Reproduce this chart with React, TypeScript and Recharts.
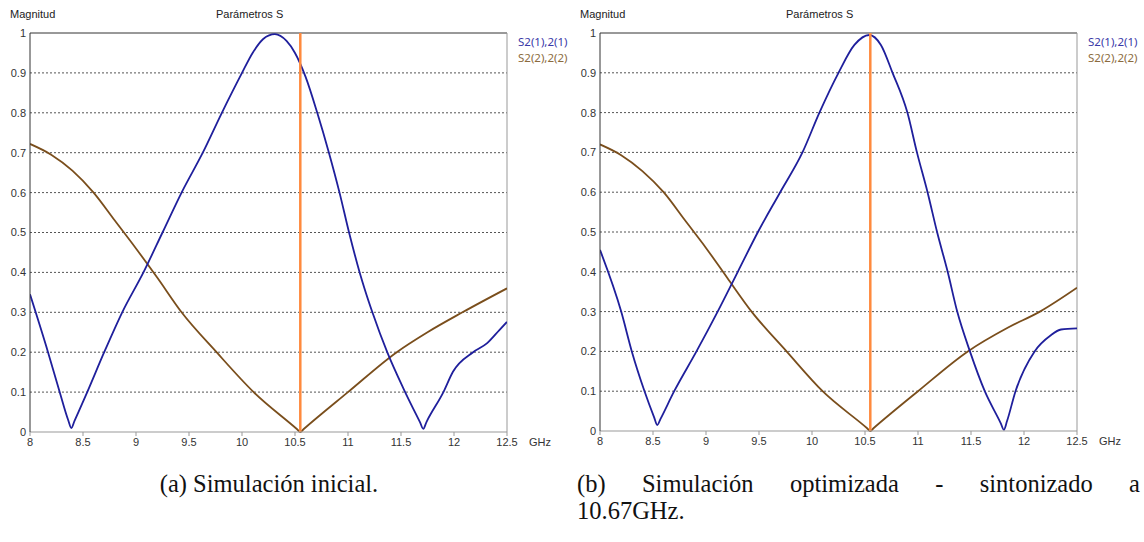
import React from "react";
import {
  LineChart,
  Line,
  XAxis,
  YAxis,
  CartesianGrid,
  ReferenceLine,
} from "recharts";

// axis ticks (GHz / magnitude)
const freqTicks = [8, 8.5, 9, 9.5, 10, 10.5, 11, 11.5, 12, 12.5];
const magTicks = [0, 0.1, 0.2, 0.3, 0.4, 0.5, 0.6, 0.7, 0.8, 0.9, 1];

// (a) initial simulation
const s21InitFreq = [
  8.0, 8.17, 8.28, 8.36, 8.39, 8.42, 8.54, 8.7, 8.87, 9.07, 9.25, 9.43, 9.63,
  9.81, 10.0, 10.1, 10.2, 10.31, 10.42, 10.5, 10.6, 10.71, 10.82, 10.92, 11.01,
  11.11, 11.16, 11.23, 11.37, 11.53, 11.68, 11.71, 11.74, 11.9, 11.99, 12.18,
  12.31, 12.43, 12.5,
];
const s21InitMag = [
  0.345, 0.2, 0.1, 0.03, 0.01, 0.028, 0.1, 0.2, 0.3, 0.4, 0.5, 0.6, 0.7, 0.8,
  0.9, 0.95, 0.985, 0.997, 0.98, 0.95, 0.89, 0.8, 0.7, 0.6, 0.5, 0.4, 0.356,
  0.3, 0.2, 0.105, 0.024, 0.008, 0.025, 0.1, 0.151, 0.2, 0.222, 0.256, 0.276,
];
const s22InitFreq = [
  8.0, 8.2, 8.4, 8.6, 8.8, 9.0, 9.2, 9.43, 9.76, 10.11, 10.52, 10.55, 10.58,
  11.0, 11.46, 11.75, 12.08, 12.5,
];
const s22InitMag = [
  0.722, 0.695, 0.655, 0.6, 0.53, 0.46, 0.387, 0.3, 0.2, 0.1, 0.007, 0.0,
  0.007, 0.1, 0.2, 0.25, 0.3, 0.36,
];

// (b) optimised simulation
const s21OptFreq = [
  8.0, 8.2, 8.3, 8.42, 8.51, 8.54, 8.57, 8.7, 8.91, 9.11, 9.3, 9.49, 9.7, 9.91,
  10.07, 10.25, 10.4, 10.54, 10.65, 10.76, 10.9, 10.99, 11.09, 11.18, 11.28,
  11.37, 11.49, 11.63, 11.78, 11.81, 11.84, 11.92, 12.1, 12.25, 12.35, 12.5,
];
const s21OptMag = [
  0.455, 0.3, 0.2, 0.1, 0.035, 0.015, 0.03, 0.1, 0.2, 0.3, 0.4, 0.5, 0.6, 0.7,
  0.8, 0.9, 0.97, 0.995, 0.97, 0.9, 0.8, 0.7, 0.6, 0.5, 0.4, 0.3, 0.2, 0.1,
  0.02, 0.003, 0.025, 0.1, 0.2, 0.24, 0.255, 0.258,
];
const s22OptFreq = [
  8.0, 8.2, 8.4, 8.6, 8.8, 9.0, 9.2, 9.43, 9.76, 10.1, 10.52, 10.55, 10.58,
  11.0, 11.47, 11.85, 12.15, 12.5,
];
const s22OptMag = [
  0.72, 0.693, 0.653, 0.6, 0.53, 0.46, 0.385, 0.3, 0.2, 0.1, 0.007, 0.0, 0.007,
  0.1, 0.2, 0.26, 0.3, 0.36,
];

const markerFreq = 10.55;

const BLUE = "#1f1f9c";
const BROWN = "#7a4e1c";
const ORANGE = "#ff8a3d";

const toPoints = (f: number[], m: number[]) =>
  f.map((x, i) => ({ f: x, m: m[i] }));

const sans = "'Liberation Sans', Arial, sans-serif";

type PanelProps = {
  left: number;
  width: number;
  plotWidth: number;
  plotHeight: number;
  s21: { f: number; m: number }[];
  s22: { f: number; m: number }[];
};

const Panel = ({ left, width, plotWidth, plotHeight, s21, s22 }: PanelProps) => {
  const yAxisW = 30;
  const top = 33;
  const rightMargin = width - yAxisW - plotWidth;
  const chartH = top + plotHeight + 28;
  const plotRight = left + yAxisW + plotWidth;
  return (
    <>
      <div
        style={{
          position: "absolute",
          left: left + 10,
          top: 8,
          fontFamily: sans,
          fontSize: 11,
          color: "#222",
        }}
      >
        Magnitud
      </div>
      <div
        style={{
          position: "absolute",
          left: left + 216,
          top: 8,
          fontFamily: sans,
          fontSize: 11,
          color: "#222",
        }}
      >
        Parámetros S
      </div>
      <div
        style={{
          position: "absolute",
          left: plotRight + 11,
          top: 34,
          fontFamily: "'Noto Sans', sans-serif",
          fontSize: 11.5,
          lineHeight: "16px",
        }}
      >
        <div style={{ color: "#3a3aa8" }}>S2(1),2(1)</div>
        <div style={{ color: "#8b6b3e" }}>S2(2),2(2)</div>
      </div>
      <div style={{ position: "absolute", left, top: 0 }}>
        <LineChart
          width={width}
          height={chartH}
          margin={{ top, right: rightMargin, left: 0, bottom: 8 }}
        >
          <CartesianGrid
            horizontal
            vertical={false}
            stroke="#555"
            strokeDasharray="2 2"
            horizontalValues={magTicks.slice(1, -1)}
          />
          <XAxis
            type="number"
            dataKey="f"
            domain={[8, 12.5]}
            ticks={freqTicks}
            allowDataOverflow
            height={20}
            stroke="#999"
            tickSize={4}
            tick={{ fontSize: 11, fill: "#333", fontFamily: sans }}
            label={{
              value: "GHz",
              position: "right",
              offset: 22,
              fontSize: 11,
              fill: "#333",
              fontFamily: sans,
            }}
          />
          <YAxis
            type="number"
            domain={[0, 1]}
            ticks={magTicks}
            width={yAxisW}
            stroke="#333"
            tickLine={false}
            tickSize={2}
            tickMargin={2}
            tick={{ fontSize: 11, fill: "#333", fontFamily: sans }}
          />
          <ReferenceLine y={1} stroke="#333" strokeWidth={1} />
          <ReferenceLine x={12.5} stroke="#999" strokeWidth={1} />
          <Line
            data={s22}
            dataKey="m"
            type="monotone"
            stroke={BROWN}
            strokeWidth={1.8}
            dot={false}
            isAnimationActive={false}
          />
          <Line
            data={s21}
            dataKey="m"
            type="monotone"
            stroke={BLUE}
            strokeWidth={1.8}
            dot={false}
            isAnimationActive={false}
          />
          <ReferenceLine x={markerFreq} stroke={ORANGE} strokeWidth={2.5} />
        </LineChart>
      </div>
    </>
  );
};

const captionFont = "'Liberation Serif', 'Times New Roman', serif";

export default function App() {
  return (
    <div
      style={{
        position: "absolute",
        left: 0,
        top: 0,
        width: 1144,
        height: 542,
        background: "#fff",
        overflow: "hidden",
      }}
    >
      <Panel
        left={0}
        width={570}
        plotWidth={477}
        plotHeight={399}
        s21={toPoints(s21InitFreq, s21InitMag)}
        s22={toPoints(s22InitFreq, s22InitMag)}
      />
      <Panel
        left={570}
        width={574}
        plotWidth={477}
        plotHeight={398}
        s21={toPoints(s21OptFreq, s21OptMag)}
        s22={toPoints(s22OptFreq, s22OptMag)}
      />
      <div
        style={{
          position: "absolute",
          left: 0,
          width: 538,
          top: 470,
          textAlign: "center",
          fontFamily: captionFont,
          fontSize: 24.5,
          lineHeight: "28px",
          color: "#111",
        }}
      >
        (a) Simulación inicial.
      </div>
      <div
        style={{
          position: "absolute",
          left: 577,
          width: 563,
          top: 470,
          fontFamily: captionFont,
          fontSize: 24.5,
          lineHeight: "27px",
          color: "#111",
        }}
      >
        <div style={{ textAlign: "justify", textAlignLast: "justify" }}>
          (b) Simulación optimizada - sintonizado a
        </div>
        <div>10.67GHz.</div>
      </div>
    </div>
  );
}
